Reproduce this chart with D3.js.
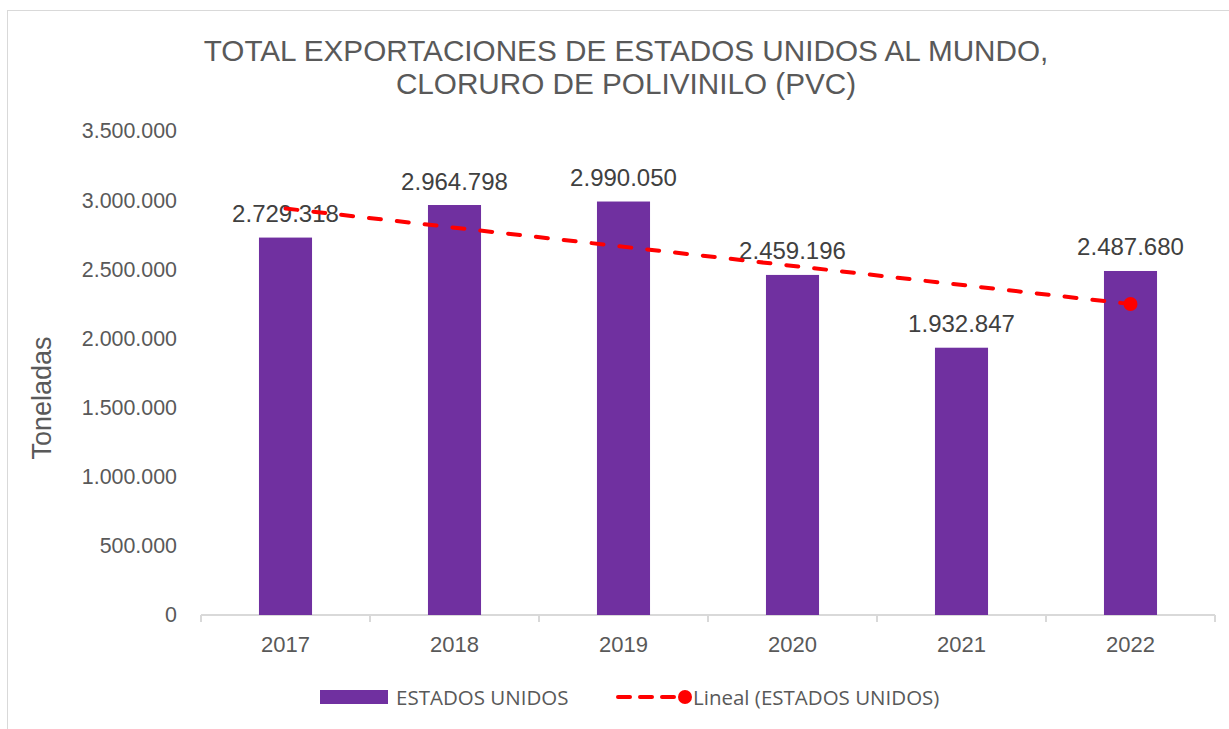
<!DOCTYPE html>
<html>
<head>
<meta charset="utf-8">
<script src="https://cdn.jsdelivr.net/npm/d3@7"></script>
<style>
  body { margin: 0; background: #fff; }
  svg { display: block; }
</style>
</head>
<body>
<div id="chart"></div>
<script>
// data
const years = ["2017", "2018", "2019", "2020", "2021", "2022"];
const toneladas = [2729318, 2964798, 2990050, 2459196, 1932847, 2487680];
const yTicks = [0, 500000, 1000000, 1500000, 2000000, 2500000, 3000000, 3500000];
const titleLines = ["TOTAL EXPORTACIONES DE ESTADOS UNIDOS AL MUNDO,", "CLORURO DE POLIVINILO (PVC)"];
const seriesName = "ESTADOS UNIDOS";
const trendName = "Lineal (ESTADOS UNIDOS)";

const width = 1229;
const height = 729;
const margin = {left: 201, right: 14, top: 131, bottom: 114};

const purple = "#7030A0";
const grey = "#595959";

const es = d3.formatLocale({decimal: ",", thousands: ".", grouping: [3], currency: ["", ""]});
const fmt = es.format(",d");

const svg = d3.select("#chart")
  .append("svg")
  .attr("width", width)
  .attr("height", height);

// chart border
svg.append("rect")
  .attr("x", 7.5).attr("y", 10.5)
  .attr("width", width + 20).attr("height", height + 20)
  .attr("fill", "none")
  .attr("stroke", "#d9d9d9");

// title
svg.append("g").selectAll("text")
  .data(titleLines)
  .enter()
  .append("text")
    .attr("x", 626)
    .attr("y", (d, i) => 50 + i * 33)
    .attr("text-anchor", "middle")
    .attr("dominant-baseline", "central")
    .attr("font-family", "Liberation Sans, Arial, sans-serif")
    .attr("font-size", "29.7px")
    .attr("fill", grey)
    .text(d => d);

const xCat = d3.scaleBand()
  .domain(years)
  .range([margin.left, width - margin.right]);

const x = d3.scaleBand()
  .domain(years)
  .range([margin.left, width - margin.right])
  .paddingInner(0.686)
  .paddingOuter(0.343);

const y = d3.scaleLinear()
  .domain([0, 3500000])
  .range([height - margin.bottom, margin.top]);

// y axis labels (no line)
const yAxis = svg.append("g")
  .attr("transform", `translate(${margin.left - 24}, 0)`)
  .call(d3.axisLeft(y).tickValues(yTicks).tickFormat(fmt).tickSize(0).tickPadding(0));
yAxis.select(".domain").remove();
yAxis.selectAll("text")
  .attr("font-family", "Liberation Sans, Arial, sans-serif")
  .attr("font-size", "21.4px")
  .attr("fill", grey);

// x axis: baseline with ticks at category boundaries
const xAxis = svg.append("g")
  .attr("transform", `translate(0, ${height - margin.bottom})`);
xAxis.append("line")
  .attr("x1", margin.left).attr("x2", width - margin.right)
  .attr("stroke", "#d9d9d9").attr("stroke-width", 2);
xAxis.selectAll(".bound")
  .data(years.concat(["end"]))
  .enter()
  .append("line")
    .attr("class", "bound")
    .attr("x1", (d, i) => margin.left + i * xCat.step())
    .attr("x2", (d, i) => margin.left + i * xCat.step())
    .attr("y1", 0).attr("y2", 7)
    .attr("stroke", "#d9d9d9").attr("stroke-width", 2);
xAxis.selectAll(".cat")
  .data(years)
  .enter()
  .append("text")
    .attr("class", "cat")
    .attr("x", d => xCat(d) + xCat.bandwidth() / 2)
    .attr("y", 29)
    .attr("text-anchor", "middle")
    .attr("dominant-baseline", "central")
    .attr("font-family", "Liberation Sans, Arial, sans-serif")
    .attr("font-size", "22px")
    .attr("fill", grey)
    .text(d => d);

// y axis title
svg.append("text")
  .attr("transform", "translate(42, 398) rotate(-90)")
  .attr("text-anchor", "middle")
  .attr("dominant-baseline", "central")
  .attr("font-family", "Liberation Sans, Arial, sans-serif")
  .attr("font-size", "27px")
  .attr("fill", grey)
  .text("Toneladas");

// bars
svg.selectAll(".bar")
  .data(toneladas)
  .enter()
  .append("rect")
    .attr("class", "bar")
    .attr("x", (d, i) => x(years[i]))
    .attr("y", d => y(d))
    .attr("width", x.bandwidth())
    .attr("height", d => y(0) - y(d))
    .attr("fill", purple);

// value labels
svg.selectAll(".lbl")
  .data(toneladas)
  .enter()
  .append("text")
    .attr("class", "lbl")
    .attr("x", (d, i) => x(years[i]) + x.bandwidth() / 2)
    .attr("y", d => y(d) - 24)
    .attr("text-anchor", "middle")
    .attr("dominant-baseline", "central")
    .attr("font-family", "Liberation Sans, Arial, sans-serif")
    .attr("font-size", "24px")
    .attr("fill", "#404040")
    .text(d => fmt(d));

// linear trend (least squares over the six values)
const n = toneladas.length;
const xs = d3.range(1, n + 1);
const mx = d3.mean(xs);
const my = d3.mean(toneladas);
const slope = d3.sum(xs, (v, i) => (v - mx) * (toneladas[i] - my)) / d3.sum(xs, v => (v - mx) * (v - mx));
const icpt = my - slope * mx;
const trend = xs.map(v => icpt + slope * v);

const cx = i => x(years[i]) + x.bandwidth() / 2;

svg.append("line")
  .attr("x1", cx(0)).attr("y1", y(trend[0]))
  .attr("x2", cx(n - 1)).attr("y2", y(trend[n - 1]))
  .attr("stroke", "#ff0000")
  .attr("stroke-width", 4)
  .attr("stroke-linecap", "round")
  .attr("stroke-dasharray", "12,16");

svg.append("circle")
  .attr("cx", cx(n - 1)).attr("cy", y(trend[n - 1]))
  .attr("r", 7)
  .attr("fill", "#ff0000");

// legend
const leg = svg.append("g").attr("transform", "translate(0, 697)");
leg.append("rect")
  .attr("x", 320).attr("y", -7)
  .attr("width", 68).attr("height", 14)
  .attr("fill", purple);
leg.append("text")
  .attr("x", 396).attr("y", 0)
  .attr("dominant-baseline", "central")
  .attr("font-family", "Open Sans, sans-serif")
  .attr("font-size", "20.5px")
  .attr("fill", grey)
  .text(seriesName);
leg.append("line")
  .attr("x1", 618).attr("x2", 684)
  .attr("y1", 0).attr("y2", 0)
  .attr("stroke", "#ff0000")
  .attr("stroke-width", 4)
  .attr("stroke-linecap", "round")
  .attr("stroke-dasharray", "12,10");
leg.append("circle")
  .attr("cx", 685).attr("cy", 0)
  .attr("r", 7)
  .attr("fill", "#ff0000");
leg.append("text")
  .attr("x", 693).attr("y", 0)
  .attr("dominant-baseline", "central")
  .attr("font-family", "Open Sans, sans-serif")
  .attr("font-size", "20.5px")
  .attr("fill", grey)
  .text(trendName);
</script>
</body>
</html>
